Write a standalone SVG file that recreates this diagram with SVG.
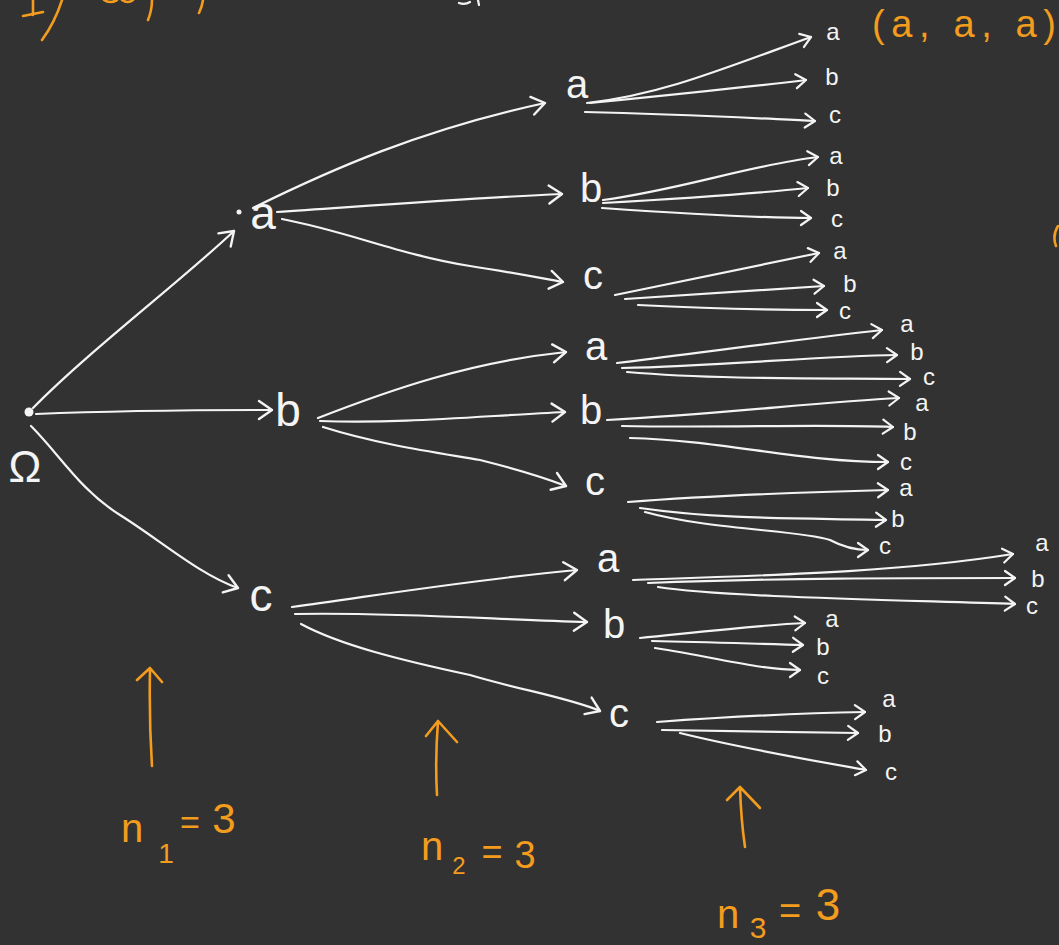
<svg xmlns="http://www.w3.org/2000/svg" width="1059" height="945" viewBox="0 0 1059 945">
<style>
.bg{fill:#323232}
.ln{fill:none;stroke:#f4f4f4;stroke-width:2.2;stroke-linecap:round}
.big{marker-end:url(#hb)}
.sm{marker-end:url(#hs)}
.or{fill:none;stroke:#f39c1e;stroke-width:2.6;stroke-linecap:round;stroke-linejoin:round}
.t{font-family:"Liberation Sans",Arial,sans-serif;fill:#f4f4f4;text-anchor:middle}
.l1{font-size:46px}
.l2{font-size:40px}
.lf{font-size:24px}
.o{font-family:"Liberation Sans",Arial,sans-serif;fill:#f39c1e}
</style>
<defs>
<marker id="hb" markerUnits="userSpaceOnUse" viewBox="-16 -12 20 24" markerWidth="20" markerHeight="24" refX="0" refY="0" orient="auto">
<path d="M-13,-9 L0,0 L-13,9" fill="none" stroke="#f4f4f4" stroke-width="2.4" stroke-linecap="round" stroke-linejoin="round"/>
</marker>
<marker id="hs" markerUnits="userSpaceOnUse" viewBox="-14 -10 18 20" markerWidth="18" markerHeight="20" refX="0" refY="0" orient="auto">
<path d="M-10,-7 L0,0 L-10,7" fill="none" stroke="#f4f4f4" stroke-width="2.2" stroke-linecap="round" stroke-linejoin="round"/>
</marker>
</defs>
<rect class="bg" x="0" y="0" width="1059" height="945"/>

<g id="fragments">
<path class="or" d="M23,16 L43,12 M33,0 L33,15 M62,0 Q55,22 42,40 M104,0 Q110,4 117,0 M122,0 Q128,4 133,0 M152,0 Q152,10 148,20 M203,0 Q202,7 199,13 M1058,226 Q1052,236 1056,246"/>
<path class="ln" d="M459,3 Q465,5 470,2 M478,0 L479,5"/>
</g>

<g id="connectors">
<path class="ln big" d="M33,408 C90,350 180,282 234,231"/>
<path class="ln big" d="M36,414 C110,411 180,410 272,410"/>
<path class="ln big" d="M31,426 C60,455 80,490 120,515 C160,540 200,575 238,588"/>

<path class="ln big" d="M253,208 C330,170 420,130 545,103"/>
<path class="ln big" d="M277,212 C380,205 470,198 562,194"/>
<path class="ln big" d="M282,219 C350,232 400,255 470,266 C510,272 540,278 563,282"/>

<path class="ln big" d="M318,418 C390,390 470,362 566,352"/>
<path class="ln big" d="M320,421 C400,424 480,416 565,412"/>
<path class="ln big" d="M323,427 C380,445 440,453 480,460 C520,470 545,478 566,486"/>

<path class="ln big" d="M292,607 C380,595 470,580 577,570"/>
<path class="ln big" d="M295,614 C400,612 500,620 587,622"/>
<path class="ln big" d="M301,624 C340,645 400,660 470,675 C520,690 570,698 600,711"/>

<path class="ln sm" d="M587,103 C660,95 720,70 811,37"/>
<path class="ln sm" d="M590,103 C670,95 740,88 806,80"/>
<path class="ln sm" d="M585,112 C680,114 750,118 815,121"/>

<path class="ln sm" d="M603,200 C680,190 750,165 818,157"/>
<path class="ln sm" d="M603,203 C690,198 760,193 808,188"/>
<path class="ln sm" d="M602,208 C690,214 760,218 811,218"/>

<path class="ln sm" d="M615,295 C690,280 760,265 819,253"/>
<path class="ln sm" d="M625,299 C700,294 770,290 824,286"/>
<path class="ln sm" d="M638,305 C720,309 780,310 827,310"/>

<path class="ln sm" d="M617,363 C720,350 810,338 882,330"/>
<path class="ln sm" d="M622,368 C720,366 820,356 897,355"/>
<path class="ln sm" d="M627,372 C720,380 830,378 910,379"/>

<path class="ln sm" d="M607,420 C720,414 820,402 899,398"/>
<path class="ln sm" d="M622,426 C720,428 820,424 893,427"/>
<path class="ln sm" d="M630,438 C720,440 800,462 888,462"/>

<path class="ln sm" d="M628,502 C720,495 810,492 888,490"/>
<path class="ln sm" d="M640,508 C720,520 810,518 886,520"/>
<path class="ln sm" d="M645,512 C710,530 800,530 830,540 C845,548 860,550 868,550"/>

<path class="ln sm" d="M633,580 C780,575 900,572 1013,554"/>
<path class="ln sm" d="M648,583 C780,578 900,578 1015,578"/>
<path class="ln sm" d="M658,587 C720,597 900,600 1015,604"/>

<path class="ln sm" d="M640,638 C700,632 760,625 805,623"/>
<path class="ln sm" d="M652,641 C710,642 760,644 803,645"/>
<path class="ln sm" d="M655,648 C720,658 760,670 800,670"/>

<path class="ln sm" d="M657,722 C740,716 810,713 865,712"/>
<path class="ln sm" d="M662,730 C740,731 810,732 858,733"/>
<path class="ln sm" d="M680,733 C740,748 810,760 866,770"/>
</g>

<g id="root">
<circle cx="29" cy="412" r="4.5" fill="#f4f4f4"/>
<text class="t" x="25" y="482" style="font-size:44px">Ω</text>
</g>

<g id="n-a1"><circle cx="239" cy="212" r="2.5" fill="#f4f4f4"/><text class="t l1" x="263" y="229">a</text></g>
<g id="n-b1"><text class="t l1" x="288" y="426">b</text></g>
<g id="n-c1"><text class="t l1" x="261" y="611">c</text></g>

<g id="n-aa"><text class="t l2" x="577" y="98">a</text></g>
<g id="n-ab"><text class="t l2" x="591" y="202">b</text></g>
<g id="n-ac"><text class="t l2" x="593" y="289">c</text></g>
<g id="n-ba"><text class="t l2" x="596" y="360">a</text></g>
<g id="n-bb"><text class="t l2" x="591" y="424">b</text></g>
<g id="n-bc"><text class="t l2" x="595" y="495">c</text></g>
<g id="n-ca"><text class="t l2" x="608" y="572">a</text></g>
<g id="n-cb"><text class="t l2" x="614" y="638">b</text></g>
<g id="n-cc"><text class="t l2" x="619" y="727">c</text></g>

<g id="leaves-aa">
<text class="t lf" x="833" y="40">a</text>
<text class="t lf" x="832" y="85">b</text>
<text class="t lf" x="835" y="123">c</text>
</g>
<g id="leaves-ab">
<text class="t lf" x="836" y="164">a</text>
<text class="t lf" x="833" y="196">b</text>
<text class="t lf" x="837" y="227">c</text>
</g>
<g id="leaves-ac">
<text class="t lf" x="840" y="259">a</text>
<text class="t lf" x="850" y="292">b</text>
<text class="t lf" x="845" y="319">c</text>
</g>
<g id="leaves-ba">
<text class="t lf" x="907" y="332">a</text>
<text class="t lf" x="917" y="360">b</text>
<text class="t lf" x="929" y="385">c</text>
</g>
<g id="leaves-bb">
<text class="t lf" x="922" y="411">a</text>
<text class="t lf" x="910" y="440">b</text>
<text class="t lf" x="906" y="470">c</text>
</g>
<g id="leaves-bc">
<text class="t lf" x="906" y="496">a</text>
<text class="t lf" x="898" y="527">b</text>
<text class="t lf" x="885" y="554">c</text>
</g>
<g id="leaves-ca">
<text class="t lf" x="1042" y="551">a</text>
<text class="t lf" x="1038" y="587">b</text>
<text class="t lf" x="1032" y="614">c</text>
</g>
<g id="leaves-cb">
<text class="t lf" x="832" y="627">a</text>
<text class="t lf" x="823" y="655">b</text>
<text class="t lf" x="823" y="684">c</text>
</g>
<g id="leaves-cc">
<text class="t lf" x="889" y="707">a</text>
<text class="t lf" x="885" y="742">b</text>
<text class="t lf" x="891" y="780">c</text>
</g>

<g id="tuple">
<text class="o" x="872" y="37" style="font-size:38px" textLength="184" lengthAdjust="spacing">(a, a, a)</text>
</g>

<g id="stage1">
<path class="or" d="M152,766 Q149,720 150,669 M137,680 L150,668 L162,682"/>
<text class="o" x="132" y="842" style="font-size:40px" text-anchor="middle">n</text>
<text class="o" x="166" y="863" style="font-size:28px" text-anchor="middle">1</text>
<text class="o" x="190" y="834" style="font-size:34px" text-anchor="middle">=</text>
<text class="o" x="224" y="833" style="font-size:42px" text-anchor="middle">3</text>
</g>
<g id="stage2">
<path class="or" d="M437,795 Q435,760 438,721 M426,736 L438,721 L457,742"/>
<text class="o" x="432" y="860" style="font-size:40px" text-anchor="middle">n</text>
<text class="o" x="459" y="874" style="font-size:24px" text-anchor="middle">2</text>
<text class="o" x="492" y="864" style="font-size:36px" text-anchor="middle">=</text>
<text class="o" x="525" y="868" style="font-size:38px" text-anchor="middle">3</text>
</g>
<g id="stage3">
<path class="or" d="M745,847 Q741,820 740,787 M727,800 L740,787 L760,808"/>
<text class="o" x="728" y="928" style="font-size:40px" text-anchor="middle">n</text>
<text class="o" x="758" y="938" style="font-size:30px" text-anchor="middle">3</text>
<text class="o" x="790" y="924" style="font-size:38px" text-anchor="middle">=</text>
<text class="o" x="828" y="920" style="font-size:44px" text-anchor="middle">3</text>
</g>
</svg>
